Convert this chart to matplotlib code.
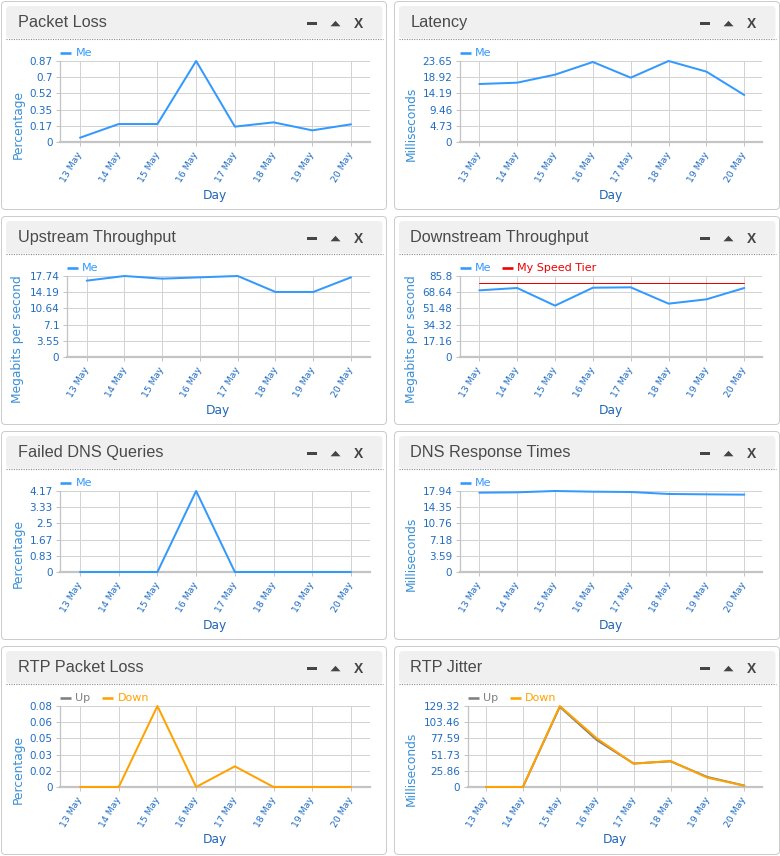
import matplotlib
matplotlib.use('Agg')
import matplotlib.pyplot as plt
import numpy as np
from matplotlib.patches import FancyBboxPatch, Polygon, Rectangle
from matplotlib.transforms import ScaledTranslation

W, H, DPI = 780, 856, 100

# ---------------- data ----------------
days = ['13 May', '14 May', '15 May', '16 May', '17 May', '18 May', '19 May', '20 May']

packet_loss_me = [0.046, 0.193, 0.193, 0.87, 0.165, 0.211, 0.125, 0.19]
latency_me = [16.93, 17.32, 19.66, 23.36, 18.78, 23.65, 20.54, 13.72]
upstream_me = [16.72, 17.74, 17.16, 17.45, 17.74, 14.24, 14.24, 17.45]
downstream_me = [70.6, 73.1, 54.4, 73.4, 73.8, 56.5, 61.1, 73.1]
speed_tier = [78.0, 78.0, 78.0, 78.0, 78.0, 78.0, 78.0, 78.0]
failed_dns_me = [0, 0, 0, 4.17, 0, 0, 0, 0]
dns_response_me = [17.57, 17.65, 17.94, 17.79, 17.72, 17.28, 17.20, 17.13]
rtp_loss_up = [np.nan, np.nan, np.nan, np.nan, np.nan, np.nan, np.nan, np.nan]
rtp_loss_down = [0, 0, 0.08, 0, 0.0204, 0, 0, 0]
rtp_jitter_up = [0, 0, 128.0, 75.0, 37.5, 41.0, 16.0, 2.3]
rtp_jitter_down = [0, 0, 129.32, 77.7, 37.25, 41.5, 14.9, 2.1]

pl_ticks = ['0', '0.17', '0.35', '0.52', '0.7', '0.87']
lat_ticks = ['0', '4.73', '9.46', '14.19', '18.92', '23.65']
up_ticks = ['0', '3.55', '7.1', '10.64', '14.19', '17.74']
down_ticks = ['0', '17.16', '34.32', '51.48', '68.64', '85.8']
fdns_ticks = ['0', '0.83', '1.67', '2.5', '3.33', '4.17']
dnsr_ticks = ['0', '3.59', '7.18', '10.76', '14.35', '17.94']
rtpl_ticks = ['0', '0.02', '0.03', '0.05', '0.06', '0.08']
rtpj_ticks = ['0', '25.86', '51.73', '77.59', '103.46', '129.32']

titles = ['Packet Loss', 'Latency', 'Upstream Throughput', 'Downstream Throughput',
          'Failed DNS Queries', 'DNS Response Times', 'RTP Packet Loss', 'RTP Jitter']
ylabels = ['Percentage', 'Milliseconds', 'Megabits per second', 'Megabits per second',
           'Percentage', 'Milliseconds', 'Percentage', 'Milliseconds']

BLUE = '#3399ff'
RED = '#ee0000'
ORANGE = '#ffa200'
GRAY = '#808080'

series = [
    [('Me', packet_loss_me, BLUE, 2.0)],
    [('Me', latency_me, BLUE, 2.0)],
    [('Me', upstream_me, BLUE, 2.0)],
    [('Me', downstream_me, BLUE, 2.0), ('My Speed Tier', speed_tier, RED, 1.0)],
    [('Me', failed_dns_me, BLUE, 2.0)],
    [('Me', dns_response_me, BLUE, 2.0)],
    [('Up', rtp_loss_up, GRAY, 2.0), ('Down', rtp_loss_down, ORANGE, 2.0)],
    [('Up', rtp_jitter_up, GRAY, 2.0), ('Down', rtp_jitter_down, ORANGE, 2.0)],
]
ytick_sets = [pl_ticks, lat_ticks, up_ticks, down_ticks, fdns_ticks, dnsr_ticks, rtpl_ticks, rtpj_ticks]

# ---------------- layout (pixels) ----------------
col_box = [(1.5, 386.5), (394.5, 779.5)]
row_off = [0, 215, 430, 645]
# plot left, first day, last day, right
plot_x = [
    (60, 80, 351, 370), (459.7, 479.3, 744.3, 762),
    (66.7, 86.7, 351, 370), (459.7, 479.3, 744.3, 762),
    (60, 80, 351, 370), (459.7, 479.3, 744.3, 762),
    (60, 80, 351, 370), (467.7, 486, 744.3, 762),
]
PX = 72.0 / DPI  # points per pixel

TICK_C = '#1f6cc2'
YLAB_C = '#3a8fd6'
XLAB_C = '#2166b5'
GRID_C = '#d3d3d3'
AXIS_C = '#c4c4c4'

plt.rcParams['font.family'] = ['DejaVu Sans']
fig = plt.figure(figsize=(W / DPI, H / DPI), dpi=DPI, facecolor='white')

bg = fig.add_axes([0, 0, 1, 1], zorder=0)
bg.set_xlim(0, W)
bg.set_ylim(H, 0)
bg.axis('off')

for i in range(8):
    col, row = i % 2, i // 2
    o = row_off[row]
    bl, br = col_box[col]
    # panel box
    bg.add_patch(FancyBboxPatch((bl, o + 1.5), br - bl, 208, boxstyle='round,pad=0,rounding_size=4',
                                facecolor='white', edgecolor='#cccccc', lw=1.0 * PX))
    # header
    bg.add_patch(FancyBboxPatch((bl + 4.5, o + 6), br - bl - 8.5, 32.5,
                                boxstyle='round,pad=0,rounding_size=4',
                                facecolor='#f0f0f0', edgecolor='none'))
    bg.plot([bl + 4.5, br - 4], [o + 38.5, o + 38.5], color='#8a8a8a', lw=0.8,
            linestyle=(0, (1, 1.2)))
    bg.text(bl + 16, o + 22.5, titles[i], fontsize=11.7, color='#4a4a4a',
            family=['Liberation Sans', 'DejaVu Sans'], va='center', ha='left')
    # icons
    bg.add_patch(Rectangle((br - 79.5, o + 22), 9.5, 2.6, color='#454545', lw=0))
    bg.add_patch(Polygon([(br - 56, o + 26.3), (br - 46, o + 26.3), (br - 51, o + 20.8)],
                         closed=True, color='#454545', lw=0))
    bg.text(br - 28, o + 23.8, 'X', fontsize=10, fontweight='bold', color='#454545',
            family=['Liberation Sans', 'DejaVu Sans'], ha='center', va='center')

    L, first, last, R = plot_x[i]
    top, bot = o + 61, o + 142
    sp = (last - first) / 7.0
    xl0 = -(first - L) / sp
    xl1 = 7 + (R - last) / sp
    labels = ytick_sets[i]
    ymax = float(labels[-1])
    yt = np.linspace(0, ymax, len(labels))
    ext = 5  # extra pixels above top
    ylim_top = ymax * (bot - (top - ext)) / (bot - top)
    ax = fig.add_axes([L / W, 1 - bot / H, (R - L) / W, (bot - (top - ext)) / H], zorder=1)
    ax.patch.set_alpha(0)
    ax.set_xlim(xl0, xl1)
    ax.set_ylim(0, ylim_top)
    x = np.arange(len(days))
    # grid
    ax.hlines(yt[1:], xl0, xl1, color=GRID_C, lw=1.0 * PX, zorder=1)
    ax.vlines(x, 0, ymax, color=GRID_C, lw=1.0 * PX, zorder=1)
    for s in ['top', 'right']:
        ax.spines[s].set_visible(False)
    ax.spines['left'].set_bounds(0, ymax)
    ax.spines['left'].set_color(AXIS_C)
    ax.spines['left'].set_linewidth(1.3 * PX)
    ax.spines['bottom'].set_color(AXIS_C)
    ax.spines['bottom'].set_linewidth(2.2 * PX)
    ax.set_yticks(yt)
    ax.set_yticklabels(labels)
    ax.set_xticks(x)
    ax.set_xticklabels(days, rotation=60, ha='right', va='top', rotation_mode='default')
    ax.tick_params(axis='y', length=4 * PX, width=1.0 * PX, color=AXIS_C, pad=3.4 * PX,
                   labelsize=7.5, labelcolor=TICK_C)
    ax.tick_params(axis='x', length=4 * PX, width=1.0 * PX, color=AXIS_C, pad=4.5 * PX,
                   labelsize=6.7, labelcolor=TICK_C)
    shift = ScaledTranslation(4.0 / DPI, 0, fig.dpi_scale_trans)
    for lab in ax.get_xticklabels():
        lab.set_transform(lab.get_transform() + shift)

    for k, (name, vals, c, lw) in enumerate(series[i]):
        ax.plot(x, vals, color=c, lw=lw * PX, clip_on=False, zorder=3 + k,
                solid_joinstyle='round', solid_capstyle='round')
        # legend
        lx = L + k * 42
        bg.plot([lx, lx + 11], [o + 52.5, o + 52.5], color=c, lw=2.6 * PX,
                solid_capstyle='butt')
        bg.text(lx + 15.5, o + 52.8, name, fontsize=8, color=c, va='center', ha='left')

    # axis titles
    ylx = 18 if col == 0 else 411
    bg.text(ylx, o + 124, ylabels[i], rotation=90, fontsize=8.85, color=YLAB_C,
            ha='center', va='center')
    bg.text((L + R) / 2, o + 195, 'Day', fontsize=8.85, color=XLAB_C, ha='center', va='center')

fig.savefig('out.png', dpi=DPI, facecolor='white')
